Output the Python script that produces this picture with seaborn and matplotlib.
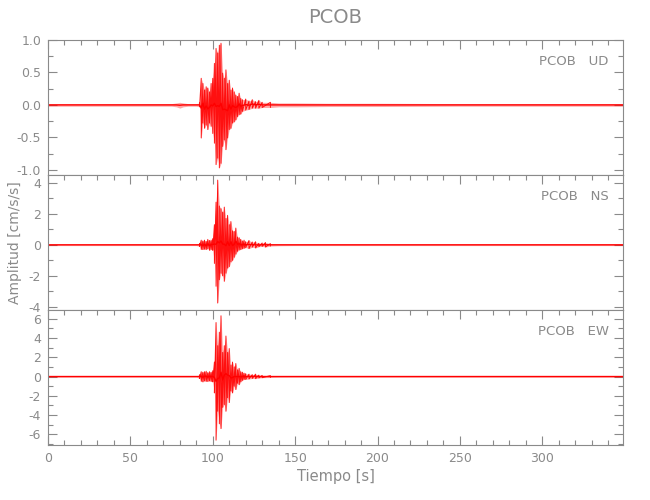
import numpy as np
import matplotlib
matplotlib.use('Agg')
import matplotlib.pyplot as plt
import seaborn as sns
from matplotlib.ticker import MultipleLocator, FormatStrFormatter

# tiempos de los nodos de la envolvente [s]
t_ud = [0, 10, 20, 30, 40, 50, 60, 70, 75, 78, 80, 82, 85, 90, 92,
        93, 94, 95, 96, 97, 98, 99, 100, 101, 102, 103, 104, 105, 106,
        107, 108, 109, 110, 111, 112, 113, 114, 115, 116, 117, 118,
        120, 122, 124, 126, 128, 130, 135, 140, 150, 170, 200, 250, 300, 349]
hi_ud = [0.02, 0.02, 0.02, 0.02, 0.02, 0.02, 0.02, 0.02, 0.02, 0.03, 0.04, 0.03, 0.02, 0.02, 0.03,
         0.41, 0.33, 0.23, 0.28, 0.26, 0.20, 0.33, 0.41, 0.64, 0.87, 0.80, 0.92, 0.95, 0.49,
         0.41, 0.54, 0.33, 0.38, 0.23, 0.26, 0.20, 0.15, 0.13, 0.18, 0.10, 0.08,
         0.09, 0.06, 0.08, 0.05, 0.07, 0.04, 0.04, 0.03, 0.03, 0.025, 0.025, 0.02, 0.02, 0.02]
lo_ud = [-0.02, -0.02, -0.02, -0.02, -0.02, -0.02, -0.02, -0.02, -0.02, -0.03, -0.05, -0.03, -0.02, -0.02, -0.03,
         -0.51, -0.28, -0.36, -0.31, -0.38, -0.28, -0.33, -0.44, -0.59, -0.92, -0.82, -0.97, -0.90, -0.64,
         -0.54, -0.69, -0.51, -0.38, -0.36, -0.28, -0.26, -0.23, -0.18, -0.15, -0.14, -0.10,
         -0.08, -0.07, -0.05, -0.05, -0.05, -0.04, -0.04, -0.03, -0.03, -0.025, -0.025, -0.02, -0.02, -0.02]

t_ns = [0, 20, 40, 60, 80, 90, 92,
        93, 94, 95, 96, 97, 98, 99, 100, 101, 102, 103, 104, 105, 106,
        107, 108, 109, 110, 111, 112, 113, 114, 115, 116, 117, 118, 119,
        120, 122, 124, 126, 128, 130, 132, 135, 140, 150, 170, 200, 250, 300, 349]
hi_ns = [0.05, 0.05, 0.05, 0.05, 0.05, 0.05, 0.10,
         0.30, 0.25, 0.30, 0.22, 0.35, 0.28, 0.30, 0.40, 1.30, 2.75, 4.17, 2.50, 2.33, 2.10,
         2.43, 1.70, 1.90, 1.30, 1.50, 0.90, 0.87, 1.08, 0.50, 0.46, 0.35, 0.25, 0.30,
         0.20, 0.28, 0.18, 0.20, 0.10, 0.12, 0.15, 0.08, 0.06, 0.05, 0.05, 0.05, 0.05, 0.05, 0.05]
lo_ns = [-0.05, -0.05, -0.05, -0.05, -0.05, -0.05, -0.10,
         -0.30, -0.30, -0.28, -0.30, -0.25, -0.35, -0.30, -0.35, -1.20, -2.67, -3.75, -2.25, -1.83, -2.00,
         -2.35, -1.83, -1.50, -1.40, -1.10, -1.00, -0.80, -0.60, -0.42, -0.33, -0.30, -0.25, -0.22,
         -0.18, -0.24, -0.15, -0.20, -0.12, -0.10, -0.14, -0.08, -0.06, -0.05, -0.05, -0.05, -0.05, -0.05, -0.05]

t_ew = [0, 20, 40, 60, 80, 90, 92,
        93, 94, 95, 96, 97, 98, 99, 100, 101, 102, 103, 104, 105, 106,
        107, 108, 109, 110, 111, 112, 113, 114, 115, 116, 117, 118, 119,
        120, 122, 124, 126, 128, 130, 135, 140, 150, 170, 200, 250, 300, 349]
hi_ew = [0.07, 0.07, 0.07, 0.07, 0.07, 0.07, 0.20,
         0.50, 0.45, 0.50, 0.55, 0.40, 0.50, 0.45, 0.60, 1.50, 5.60, 3.20, 4.60, 6.30, 2.50,
         3.20, 4.20, 2.50, 2.90, 1.20, 1.50, 1.00, 1.35, 0.70, 0.85, 0.50, 0.45, 0.35,
         0.30, 0.25, 0.20, 0.25, 0.15, 0.12, 0.10, 0.08, 0.07, 0.07, 0.07, 0.07, 0.07, 0.07]
lo_ew = [-0.07, -0.07, -0.07, -0.07, -0.07, -0.07, -0.20,
         -0.50, -0.55, -0.45, -0.50, -0.50, -0.45, -0.50, -0.55, -1.70, -6.60, -3.60, -4.90, -5.40, -3.20,
         -2.90, -3.60, -2.20, -2.70, -1.50, -1.70, -1.00, -1.35, -0.70, -0.85, -0.55, -0.40, -0.30,
         -0.30, -0.25, -0.20, -0.22, -0.15, -0.12, -0.10, -0.08, -0.07, -0.07, -0.07, -0.07, -0.07, -0.07]

componentes = ['UD', 'NS', 'EW']
estacion = 'PCOB'

sns.set_style('ticks')
plt.rcParams['font.family'] = ['DejaVu Sans']
gris = '#8a8a8a'

fig = plt.figure(figsize=(6.5, 5), dpi=100)
left, width, h = 48 / 650, 575 / 650, 0.27
bottoms = [0.65, 0.38, 0.11]
ylims = [(-1.08, 1.0), (-4.2, 4.5), (-7.1, 6.9)]
majors = [0.5, 2, 2]
minors = [0.25, 1, 1]
datos = [(t_ud, hi_ud, lo_ud), (t_ns, hi_ns, lo_ns), (t_ew, hi_ew, lo_ew)]

for i, (t, hi, lo) in enumerate(datos):
    ax = fig.add_axes([left, bottoms[i], width, h])
    t = np.asarray(t, float)
    hi = np.asarray(hi, float)
    lo = np.asarray(lo, float)
    # banda de ruido y linea base
    ax.fill_between(t, lo, hi, color='red', alpha=0.35, lw=0)
    sns.lineplot(x=t, y=(hi + lo) / 2, sort=False, estimator=None, ax=ax,
                 color='red', lw=1.0)
    # zona activa: traza en zigzag entre maximo y minimo de cada nodo
    m = (t >= 92) & (t <= 135)
    xz = np.repeat(t[m], 2)
    yz = np.column_stack([hi[m], lo[m]]).ravel()
    sns.lineplot(x=xz, y=yz, sort=False, estimator=None, ax=ax,
                 color='red', lw=0.7, alpha=0.9)
    ax.set_xlim(0, 349)
    ax.set_ylim(*ylims[i])
    ax.xaxis.set_major_locator(MultipleLocator(50))
    ax.xaxis.set_minor_locator(MultipleLocator(10))
    ax.yaxis.set_major_locator(MultipleLocator(majors[i]))
    ax.yaxis.set_minor_locator(MultipleLocator(minors[i]))
    ax.tick_params(which='both', direction='in', colors=gris, labelcolor=gris,
                   labelsize=9, top=True, right=True, left=True,
                   bottom=(i == 2), labelbottom=(i == 2), width=0.8, pad=5)
    ax.tick_params(which='major', length=6.5)
    ax.tick_params(which='minor', length=3.5)
    ax.yaxis.set_major_formatter(FormatStrFormatter('%.1f' if i == 0 else '%d'))
    for s in ax.spines.values():
        s.set_color(gris)
        s.set_linewidth(0.8)
    ax.text(0.975, 0.84, estacion + '   ' + componentes[i], transform=ax.transAxes,
            ha='right', va='center', color=gris, fontsize=9.5)
    if i == 1:
        ax.set_ylabel('Amplitud [cm/s/s]', color=gris, fontsize=10)
        ax.yaxis.set_label_coords(-0.045, 0.5)
    if i == 2:
        ax.set_xlabel('Tiempo [s]', color=gris, fontsize=10.5, labelpad=3)

fig.text(left + width / 2, 0.965, estacion, ha='center', va='center',
         color=gris, fontsize=14)
fig.savefig('out.png', dpi=100, facecolor='white')
